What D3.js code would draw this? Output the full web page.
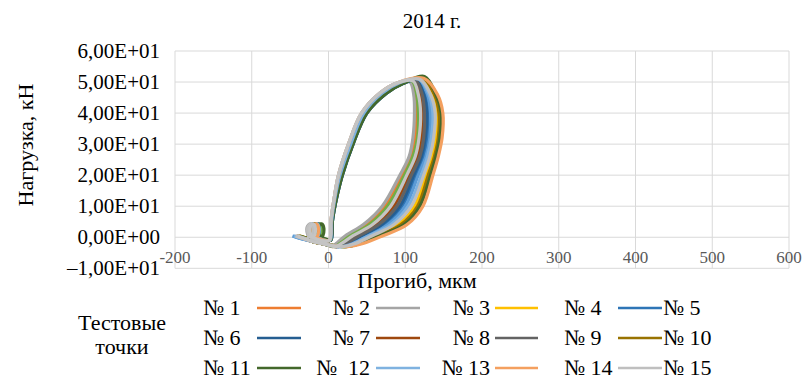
<!DOCTYPE html>
<html>
<head>
<meta charset="utf-8">
<script src="https://cdn.jsdelivr.net/npm/d3@7"></script>
<style>
  body { margin: 0; background: #fff; }
</style>
</head>
<body>
<div id="chart"></div>
<script>
// test points: [deflection, load]
const loop01 = [[-19,0.3],[-13,0.4],[-11,2.8],[-14,4.3],[-18,3.2],[-16,0.4],[-6,-0.8],
  [2,-1],[4,5],[8,12],[15,20],[29,30],[46,40],[70,46.5],[92,49.7],[108,50.2],
  [113,46],[115,40],[113,32],[108,26],[96,20],[74,10],[49,4],[26,0.5],[12,-2],[6,-3],
  [-5,-2.2],[-22,-1.3],[-30,-0.4],[-40,0.4]];
const loop02 = [[-29,0.3],[-23,0.4],[-21,2.8],[-24,4.3],[-28,3.2],[-26,0.4],[-16,-0.8],
  [1,-1],[3,5],[7,12],[13,20],[26,30],[43,40],[67,46.5],[90,49.8],[106,50.0],
  [111,46],[112,40],[110,32],[105,26],[93,20],[70,10],[45,4],[22,0.5],[10,-2],[5,-3],
  [-5,-2.2],[-22,-1.3],[-34,-0.4],[-44,0.4]];
const loop03 = [[-22,0.3],[-16,0.4],[-14,2.8],[-17,4.3],[-21,3.2],[-19,0.4],[-9,-0.8],
  [2,-1],[4,5],[8,12],[15,20],[29,30],[46,40],[70,46.5],[92,49.7],[121,51.0],
  [135,46],[141,40],[140,32],[135,26],[127,20],[112,10],[90,4],[61,0.5],[37,-2],[20,-3],
  [-5,-2.2],[-22,-1.3],[-28,-0.4],[-38,0.4]];
const loop04 = [[-17,0.3],[-11,0.4],[-9,2.8],[-12,4.3],[-16,3.2],[-14,0.4],[-4,-0.8],
  [3,-1],[5,5],[10,12],[18,20],[32,30],[50,40],[76,46.5],[97,49.5],[115,50.7],
  [126,46],[130,40],[129,32],[124,26],[114,20],[96,10],[73,4],[46,0.5],[27,-2],[14,-3],
  [-5,-2.2],[-22,-1.3],[-36,-0.4],[-46,0.4]];
const loop05 = [[-26,0.3],[-20,0.4],[-18,2.8],[-21,4.3],[-25,3.2],[-23,0.4],[-13,-0.8],
  [2,-1],[4,5],[8,12],[15,20],[29,30],[46,40],[70,46.5],[92,49.7],[117,50.8],
  [129,46],[133,40],[132,32],[127,26],[117,20],[100,10],[77,4],[50,0.5],[30,-2],[16,-3],
  [-5,-2.2],[-22,-1.3],[-37,-0.4],[-47,0.4]];
const loop06 = [[-18,0.3],[-12,0.4],[-10,2.8],[-13,4.3],[-17,3.2],[-15,0.4],[-5,-0.8],
  [3,-1],[5,5],[10,12],[18,20],[32,30],[50,40],[76,46.5],[97,49.5],[114,50.6],
  [124,46],[128,40],[126,32],[121,26],[111,20],[93,10],[69,4],[43,0.5],[25,-2],[13,-3],
  [-5,-2.2],[-22,-1.3],[-32,-0.4],[-42,0.4]];
const loop07 = [[-24,0.3],[-18,0.4],[-16,2.8],[-19,4.3],[-23,3.2],[-21,0.4],[-11,-0.8],
  [2,-1],[4,5],[8,12],[15,20],[29,30],[46,40],[70,46.5],[92,49.7],[112,50.5],
  [120,46],[123,40],[121,32],[116,26],[105,20],[85,10],[61,4],[36,0.5],[20,-2],[10,-3],
  [-5,-2.2],[-22,-1.3],[-29,-0.4],[-39,0.4]];
const loop08 = [[-21,0.3],[-15,0.4],[-13,2.8],[-16,4.3],[-20,3.2],[-18,0.4],[-8,-0.8],
  [2,-1],[4,5],[8,12],[15,20],[29,30],[46,40],[70,46.5],[92,49.7],[113,50.6],
  [122,46],[125,40],[124,32],[119,26],[108,20],[89,10],[65,4],[40,0.5],[22,-2],[11,-3],
  [-5,-2.2],[-22,-1.3],[-31,-0.4],[-41,0.4]];
const loop09 = [[-23,0.3],[-17,0.4],[-15,2.8],[-18,4.3],[-22,3.2],[-20,0.4],[-10,-0.8],
  [2,-1],[4,5],[8,12],[15,20],[29,30],[46,40],[70,46.5],[92,49.7],[122,51.1],
  [138,46],[144,40],[143,32],[138,26],[130,20],[116,10],[94,4],[64,0.5],[40,-2],[22,-3],
  [-5,-2.2],[-22,-1.3],[-27,-0.4],[-37,0.4]];
const loop10 = [[-16,0.3],[-10,0.4],[-8,2.8],[-11,4.3],[-15,3.2],[-13,0.4],[-3,-0.8],
  [2,-1],[4,5],[8,12],[15,20],[29,30],[46,40],[70,46.5],[92,49.7],[109,50.3],
  [115,46],[117,40],[116,32],[110,26],[99,20],[77,10],[53,4],[29,0.5],[15,-2],[8,-3],
  [-5,-2.2],[-22,-1.3],[-30,-0.4],[-40,0.4]];
const loop11 = [[-14,0.3],[-8,0.4],[-6,2.8],[-9,4.3],[-13,3.2],[-11,0.4],[-1,-0.8],
  [3,-1],[5,5],[10,12],[18,20],[32,30],[50,40],[76,46.5],[97,49.5],[125,51.8],
  [140,46],[147,40],[145,32],[140,26],[133,20],[119,10],[98,4],[67,0.5],[42,-2],[23,-3],
  [-5,-2.2],[-22,-1.3],[-28,-0.4],[-38,0.4]];
const loop12 = [[-20,0.3],[-14,0.4],[-12,2.8],[-15,4.3],[-19,3.2],[-17,0.4],[-7,-0.8],
  [2,-1],[4,5],[8,12],[15,20],[29,30],[46,40],[70,46.5],[92,49.7],[118,50.9],
  [131,46],[136,40],[134,32],[129,26],[121,20],[104,10],[81,4],[53,0.5],[32,-2],[17,-3],
  [-5,-2.2],[-22,-1.3],[-35,-0.4],[-45,0.4]];
const loop13 = [[-21,0.3],[-15,0.4],[-13,2.8],[-16,4.3],[-20,3.2],[-18,0.4],[-8,-0.8],
  [1,-1],[3,5],[7,12],[13,20],[26,30],[43,40],[67,46.5],[90,49.8],[124,51.2],
  [142,46],[149,40],[148,32],[143,26],[136,20],[123,10],[102,4],[71,0.5],[45,-2],[25,-3],
  [-5,-2.2],[-22,-1.3],[-32,-0.4],[-42,0.4]];
const loop14 = [[-28,0.3],[-22,0.4],[-20,2.8],[-23,4.3],[-27,3.2],[-25,0.4],[-15,-0.8],
  [1,-1],[3,5],[7,12],[13,20],[26,30],[43,40],[67,46.5],[90,49.8],[119,50.9],
  [133,46],[139,40],[137,32],[132,26],[124,20],[108,10],[85,4],[57,0.5],[35,-2],[19,-3],
  [-5,-2.2],[-22,-1.3],[-33,-0.4],[-43,0.4]];
const loop15 = [[-25,0.3],[-19,0.4],[-17,2.8],[-20,4.3],[-24,3.2],[-22,0.4],[-12,-0.8],
  [1,-1],[3,5],[7,12],[13,20],[26,30],[43,40],[67,46.5],[90,49.8],[110,50.4],
  [117,46],[120,40],[118,32],[113,26],[102,20],[81,10],[57,4],[32,0.5],[17,-2],[9,-3],
  [-5,-2.2],[-22,-1.3],[-30,-0.4],[-40,0.4]];

const loops = [loop01, loop02, loop03, loop04, loop05, loop06, loop07, loop08,
               loop09, loop10, loop11, loop12, loop13, loop14, loop15];
const seriesNames = ['№ 1', '№ 2', '№ 3', '№ 4', '№ 5', '№ 6', '№ 7', '№ 8',
                     '№ 9', '№ 10', '№ 11', '№  12', '№ 13', '№ 14', '№ 15'];
const xTicks = [-200, -100, 0, 100, 200, 300, 400, 500, 600];
const yTicks = [-10, 0, 10, 20, 30, 40, 50, 60];
const yTickLabels = ['–1,00E+01', '0,00E+00', '1,00E+01', '2,00E+01',
                     '3,00E+01', '4,00E+01', '5,00E+01', '6,00E+01'];

const colors = ['#ED7D31', '#A5A5A5', '#FFC000', '#2E75B6', '#5B9BD5',
                '#255E91', '#9E480E', '#636363', '#997300', '#70AD47',
                '#43682B', '#7FB2E0', '#F4A05F', '#BFBFBF', '#C4C4C4'];

const width = 806, height = 379;
const serif = 'Liberation Serif';

const svg = d3.select('#chart').append('svg')
    .attr('width', width)
    .attr('height', height)
    .attr('font-family', serif)
    .style('display', 'block');

const x = d3.scaleLinear().domain([-200, 600]).range([175, 789]);
const y = d3.scaleLinear().domain([-10, 60]).range([268.3, 51]);

// grid
svg.append('g').selectAll('line').data(yTicks).enter().append('line')
    .attr('x1', x(-200)).attr('x2', x(600))
    .attr('y1', d => y(d)).attr('y2', d => y(d))
    .attr('stroke', '#d9d9d9').attr('stroke-width', 1);
svg.append('g').selectAll('line').data(xTicks).enter().append('line')
    .attr('x1', d => x(d)).attr('x2', d => x(d))
    .attr('y1', y(60)).attr('y2', y(-10))
    .attr('stroke', '#d9d9d9').attr('stroke-width', 1);

// x tick labels sit under the zero line
svg.append('g').selectAll('text').data(xTicks).enter().append('text')
    .attr('x', d => x(d))
    .attr('y', y(0) + 26)
    .attr('text-anchor', 'middle')
    .attr('font-family', serif)
    .style('font-size', '17px')
    .style('fill', '#595959')
    .text(d => d);

svg.append('g').selectAll('text').data(yTicks).enter().append('text')
    .attr('x', 160)
    .attr('y', d => y(d))
    .attr('dy', '0.33em')
    .attr('text-anchor', 'end')
    .attr('font-family', serif)
    .style('font-size', '21px')
    .style('fill', '#000')
    .text((d, i) => yTickLabels[i]);

// loops
const line = d3.line()
    .x(d => x(d[0]))
    .y(d => y(d[1]))
    .curve(d3.curveCatmullRom.alpha(0.5));

svg.append('g').selectAll('path').data(loops).enter().append('path')
    .attr('d', d => line(d))
    .attr('fill', 'none')
    .attr('stroke', (d, i) => colors[i])
    .attr('stroke-width', 3.2)
    .attr('stroke-linejoin', 'round');

// titles
svg.append('text')
    .attr('x', 432).attr('y', 28)
    .attr('text-anchor', 'middle')
    .attr('font-family', serif)
    .style('font-size', '21px')
    .text('2014 г.');

svg.append('text')
    .attr('transform', 'translate(33,145) rotate(-90)')
    .attr('text-anchor', 'middle')
    .attr('font-family', serif)
    .style('font-size', '22px')
    .text('Нагрузка, кН');

svg.append('text')
    .attr('x', 417).attr('y', 288)
    .attr('text-anchor', 'middle')
    .attr('font-family', serif)
    .style('font-size', '22px')
    .text('Прогиб, мкм');

// legend
const legend = svg.append('g').attr('font-family', serif);
legend.append('text').attr('x', 122).attr('y', 330)
    .attr('text-anchor', 'middle').style('font-size', '22px').text('Тестовые');
legend.append('text').attr('x', 122).attr('y', 354)
    .attr('text-anchor', 'middle').style('font-size', '22px').text('точки');

const rowY = [308, 338, 368];
const colText = [{x: 203, a: 'start'}, {x: 370, a: 'end'}, {x: 490, a: 'end'},
                 {x: 564, a: 'start'}, {x: 663, a: 'start'}];
const colLine = [[257, 301], [376, 420], [495, 538], [618, 662], null];

seriesNames.forEach((name, i) => {
  const r = Math.floor(i / 5), c = i % 5;
  legend.append('text')
      .attr('x', colText[c].x)
      .attr('y', rowY[r] + 7)
      .attr('text-anchor', colText[c].a)
      .attr('xml:space', 'preserve')
      .style('white-space', 'pre')
      .style('font-size', '22px')
      .text(name);
  if (colLine[c]) {
    legend.append('line')
        .attr('x1', colLine[c][0]).attr('x2', colLine[c][1])
        .attr('y1', rowY[r]).attr('y2', rowY[r])
        .attr('stroke', colors[i])
        .attr('stroke-width', 2.6);
  }
});
</script>
</body>
</html>
